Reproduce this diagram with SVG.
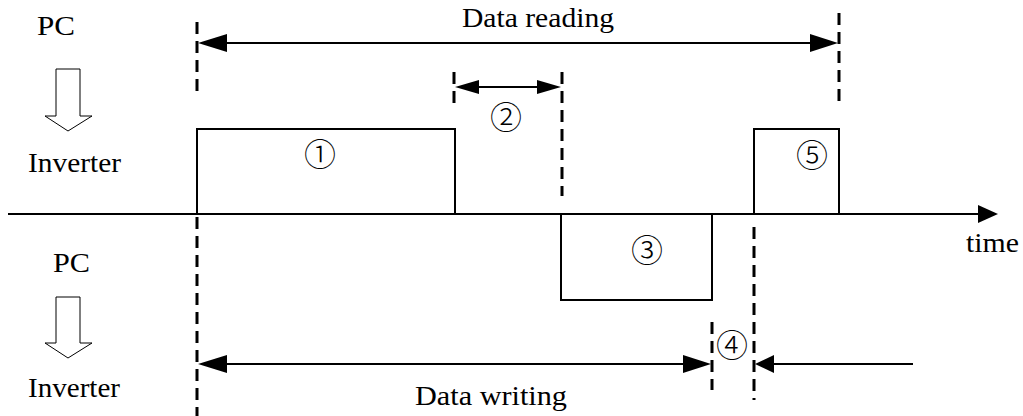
<svg xmlns="http://www.w3.org/2000/svg" width="1023" height="416" viewBox="0 0 1023 416">
<style>
.bg{fill:#fff}
.t{font-family:"Liberation Serif","Times New Roman",serif;font-size:27px;fill:#000}
.c{font-family:"Noto Sans CJK SC","DejaVu Sans",sans-serif;font-size:32px;fill:#000;text-anchor:middle;dominant-baseline:central;font-weight:300}
.s{fill:none;stroke:#000;stroke-width:2}
.d{fill:none;stroke:#000;stroke-width:3;stroke-dasharray:12 7}
.h{fill:#fff;stroke:#000;stroke-width:1}
.a{fill:#000;stroke:none}
</style>
<rect class="bg" x="0" y="0" width="1023" height="416"/>
<g id="labels">
<text class="t" x="37" y="35" textLength="38" lengthAdjust="spacingAndGlyphs">PC</text>
<text class="t" x="28" y="172" textLength="93" lengthAdjust="spacingAndGlyphs">Inverter</text>
<text class="t" x="53" y="272" textLength="37" lengthAdjust="spacingAndGlyphs">PC</text>
<text class="t" x="28" y="397" textLength="92" lengthAdjust="spacingAndGlyphs">Inverter</text>
<text class="t" x="462" y="27" textLength="152" lengthAdjust="spacingAndGlyphs">Data reading</text>
<text class="t" x="415" y="405" textLength="152" lengthAdjust="spacingAndGlyphs">Data writing</text>
<text class="t" x="966" y="252" textLength="53" lengthAdjust="spacingAndGlyphs">time</text>
</g>
<g id="direction-arrows">
<polygon class="h" points="56,69 80,69 80,116 92,116 68,131 45,116 56,116"/>
<polygon class="h" points="56,297 80,297 80,343 92,343 68,358 45,343 56,343"/>
</g>
<g id="axis">
<line class="s" x1="8" y1="214" x2="982" y2="214"/>
<polygon class="a" points="998,214 978,205 978,223"/>
</g>
<g id="frame1">
<polyline class="s" points="197,214 197,129 455,129 455,214"/>
<text class="c" x="320" y="152">①</text>
</g>
<g id="frame3">
<polyline class="s" points="561,214 561,300 712,300 712,214"/>
<text class="c" x="647" y="248">③</text>
</g>
<g id="frame5">
<polyline class="s" points="754,214 754,129 839,129 839,214"/>
<text class="c" x="812" y="153">⑤</text>
</g>
<g id="gap2"><text class="c" x="506" y="115">②</text></g>
<g id="gap4"><text class="c" x="732" y="343">④</text></g>
<g id="connectors">
<line class="d" x1="197" y1="22" x2="197" y2="92"/>
<line class="d" x1="197" y1="217" x2="197" y2="416"/>
<line class="d" x1="839" y1="13" x2="839" y2="108"/>
<line class="d" x1="454" y1="72" x2="454" y2="108"/>
<line class="d" x1="562" y1="72" x2="562" y2="196"/>
<line class="d" x1="712" y1="322" x2="712" y2="390"/>
<line class="d" x1="754" y1="227" x2="754" y2="400"/>
<line class="s" x1="225" y1="43" x2="812" y2="43"/>
<polygon class="a" points="198,43 227,34 227,52"/>
<polygon class="a" points="838,43 810,34 810,52"/>
<line class="s" x1="475" y1="87" x2="540" y2="87"/>
<polygon class="a" points="455,87 479,80 479,94"/>
<polygon class="a" points="561,87 537,80 537,94"/>
<line class="s" x1="225" y1="364" x2="685" y2="364"/>
<polygon class="a" points="198,364 227,355 227,373"/>
<polygon class="a" points="711,364 683,355 683,373"/>
<line class="s" x1="771" y1="364" x2="913" y2="364"/>
<polygon class="a" points="755,364 774,355 774,373"/>
</g>
</svg>
